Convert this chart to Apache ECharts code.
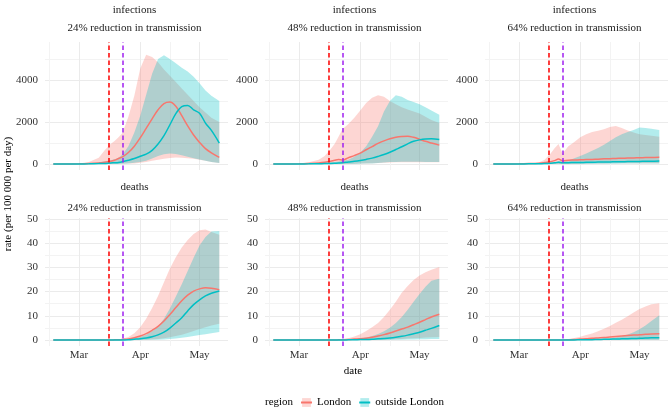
<!DOCTYPE html>
<html><head><meta charset="utf-8">
<script src="https://cdn.jsdelivr.net/npm/echarts@6/dist/echarts.min.js"></script>
<style>html,body{margin:0;padding:0;background:#fff}#c{width:668px;height:408px}</style>
</head><body><div id="c"></div>
<script>
// ---------- data ----------
const dates = ['2020-02-17','2020-02-24','2020-03-01','2020-03-06','2020-03-11','2020-03-14','2020-03-17','2020-03-19','2020-03-21','2020-03-23','2020-03-26','2020-03-29','2020-04-01','2020-04-04','2020-04-07','2020-04-10','2020-04-13','2020-04-16','2020-04-19','2020-04-22','2020-04-25','2020-04-28','2020-05-01','2020-05-04','2020-05-07','2020-05-11'];
const monthTickDates = ['2020-03-01','2020-04-01','2020-05-01'];
const monthTickLabels = ['Mar','Apr','May'];
const monthMinorDates = ['2020-02-15','2020-03-16','2020-04-16','2020-05-16'];
const interventionDates = ['2020-03-16','2020-03-23'];
const interventionColors = ['#FF0000','#A020F0'];
const infTicks = [0,2000,4000];
const infMinorTicks = [1000,3000,5000];
const deathTicks = [0,10,20,30,40,50];
const deathMinorTicks = [5,15,25,35,45];
const measures = ['infections','infections','infections','deaths','deaths','deaths'];
const scenarios = ['24% reduction in transmission','48% reduction in transmission','64% reduction in transmission','24% reduction in transmission','48% reduction in transmission','64% reduction in transmission'];
const regions = ['London','outside London'];

// infections, 24%
const inf24_london_med = [0,2,8,20,45,80,130,180,260,340,550,850,1250,1700,2150,2580,2880,2950,2750,2300,1820,1380,1030,730,530,320];
const inf24_london_lo  = [0,0,0,0,0,2,5,8,10,15,20,30,60,100,150,200,250,290,310,300,280,250,200,150,100,50];
const inf24_london_hi  = [0,10,30,90,300,650,950,1100,1280,1480,2250,3250,4550,5200,5100,4850,4500,4200,3900,3600,3300,3000,2700,2450,2200,2000];
const inf24_out_med    = [0,1,4,10,20,30,50,60,75,110,180,260,370,470,650,950,1350,1870,2400,2730,2790,2580,2420,1950,1600,1000];
const inf24_out_lo     = [0,0,0,0,0,0,0,0,5,10,30,60,100,150,260,380,460,500,480,420,350,280,220,160,100,50];
const inf24_out_hi     = [0,5,15,40,80,120,180,230,300,450,850,1500,2300,3300,4300,5000,5180,5000,4800,4580,4400,4150,3850,3500,3250,3000];
// infections, 48%
const inf48_london_med = [0,3,10,25,50,80,130,180,220,190,300,400,520,680,830,980,1100,1200,1270,1310,1320,1270,1180,1080,1000,900];
const inf48_london_lo  = [0,0,0,0,0,0,0,0,0,0,5,10,20,30,40,50,60,70,80,80,80,80,80,80,80,80];
const inf48_london_hi  = [0,10,30,80,200,380,700,950,1300,1650,1900,2200,2550,2900,3150,3280,3200,3000,2850,2700,2600,2500,2400,2250,2100,1950];
const inf48_out_med    = [0,1,3,8,15,22,30,38,50,65,100,130,170,220,280,360,450,560,690,820,960,1080,1150,1190,1200,1170];
const inf48_out_lo     = [0,0,0,0,0,0,0,0,0,0,0,5,10,20,30,50,70,90,100,110,110,110,105,100,100,100];
const inf48_out_hi     = [0,3,8,20,40,60,80,95,120,150,200,350,550,850,1300,1800,2500,3000,3280,3200,3050,2950,2850,2700,2550,2350];
// infections, 64%
const inf64_london_med = [0,3,8,20,40,70,110,160,240,150,180,190,200,210,220,230,245,255,265,275,285,290,300,305,310,320];
const inf64_london_lo  = [0,0,0,0,0,0,0,0,0,0,0,5,10,15,20,25,30,35,40,40,40,40,40,40,40,40];
const inf64_london_hi  = [0,5,15,30,70,200,500,750,950,500,850,1050,1280,1420,1520,1580,1650,1760,1810,1720,1600,1500,1420,1380,1340,1300];
const inf64_out_med    = [0,1,3,8,15,25,40,55,80,60,65,70,75,80,85,90,95,100,105,110,115,120,125,130,135,140];
const inf64_out_lo     = [0,0,0,0,0,0,0,0,0,0,0,0,0,0,5,10,10,15,15,20,20,20,20,20,20,20];
const inf64_out_hi     = [0,2,5,12,25,40,60,90,130,110,170,280,380,500,630,760,920,1100,1280,1420,1530,1620,1740,1720,1680,1620];
// deaths, 24%
const dth24_london_med = [0,0,0,0,0,0,0,0.05,0.1,0.2,0.4,0.9,1.6,2.6,4.0,5.6,7.8,10.5,13.4,16.2,18.5,20.2,21.1,21.6,21.4,20.8];
const dth24_london_lo  = [0,0,0,0,0,0,0,0,0,0,0,0,0.05,0.1,0.2,0.4,0.7,1.1,1.6,2.2,2.9,3.7,4.5,5.3,6.0,6.7];
const dth24_london_hi  = [0,0,0,0,0,0,0,0.1,0.2,0.5,1.2,2.8,5.2,8.8,13.2,18.2,23.8,29.5,34.2,38.2,41.3,43.8,45.3,45.6,44.6,43.5];
const dth24_out_med    = [0,0,0,0,0,0,0,0,0,0,0.1,0.3,0.5,0.8,1.3,2.1,3.2,4.9,7.0,9.2,12.0,14.6,16.6,18.2,19.3,20.2];
const dth24_out_lo     = [0,0,0,0,0,0,0,0,0,0,0,0,0,0,0.05,0.1,0.2,0.4,0.6,0.9,1.2,1.6,2.0,2.4,2.8,3.3];
const dth24_out_hi     = [0,0,0,0,0,0,0,0,0,0.1,0.3,0.7,1.3,2.2,3.6,5.6,8.8,13.0,18.0,23.0,28.5,34.0,39.0,42.5,44.8,45.0];
// deaths, 48%
const dth48_london_med = [0,0,0,0,0,0,0,0,0.05,0.1,0.2,0.35,0.5,0.75,1.1,1.6,2.2,2.9,3.7,4.5,5.3,6.3,7.3,8.4,9.5,10.6];
const dth48_london_lo  = [0,0,0,0,0,0,0,0,0,0,0,0,0,0,0,0,0.1,0.2,0.3,0.4,0.55,0.7,0.85,1.0,1.1,1.2];
const dth48_london_hi  = [0,0,0,0,0,0,0,0.05,0.1,0.3,0.7,1.4,2.4,3.7,5.2,7.0,9.5,12.5,15.8,19.5,22.3,24.8,26.6,28.0,29.0,30.2];
const dth48_out_med    = [0,0,0,0,0,0,0,0,0,0,0.05,0.1,0.15,0.2,0.3,0.45,0.6,0.8,1.1,1.5,2.0,2.6,3.2,4.0,4.8,6.0];
const dth48_out_lo     = [0,0,0,0,0,0,0,0,0,0,0,0,0,0,0,0,0,0,0.05,0.1,0.15,0.2,0.25,0.3,0.35,0.4];
const dth48_out_hi     = [0,0,0,0,0,0,0,0,0,0,0.1,0.3,0.6,1.0,1.6,2.5,3.6,5.0,7.0,9.5,12.5,15.8,19.0,22.0,24.5,25.3];
// deaths, 64%
const dth64_london_med = [0,0,0,0,0,0,0,0,0,0,0.1,0.2,0.35,0.5,0.7,0.85,1.0,1.2,1.4,1.6,1.8,2.0,2.2,2.35,2.5,2.6];
const dth64_london_lo  = [0,0,0,0,0,0,0,0,0,0,0,0,0,0,0,0,0,0.05,0.05,0.05,0.05,0.1,0.1,0.1,0.1,0.1];
const dth64_london_hi  = [0,0,0,0,0,0,0,0,0,0.1,0.4,0.8,1.3,2.0,2.7,3.6,4.6,5.8,7.1,8.4,9.8,11.3,12.8,13.8,14.8,15.2];
const dth64_out_med    = [0,0,0,0,0,0,0,0,0,0,0,0.02,0.05,0.08,0.12,0.2,0.25,0.3,0.4,0.45,0.5,0.6,0.7,0.8,0.9,0.95];
const dth64_out_lo     = [0,0,0,0,0,0,0,0,0,0,0,0,0,0,0,0,0,0,0,0,0,0,0,0,0,0];
const dth64_out_hi     = [0,0,0,0,0,0,0,0,0,0,0,0.05,0.1,0.15,0.2,0.3,0.5,0.7,1.0,1.5,2.3,3.2,4.4,6.0,7.8,10.2];

// ---------- build ----------
const panels = [
  {L:[inf24_london_lo,inf24_london_med,inf24_london_hi], O:[inf24_out_lo,inf24_out_med,inf24_out_hi]},
  {L:[inf48_london_lo,inf48_london_med,inf48_london_hi], O:[inf48_out_lo,inf48_out_med,inf48_out_hi]},
  {L:[inf64_london_lo,inf64_london_med,inf64_london_hi], O:[inf64_out_lo,inf64_out_med,inf64_out_hi]},
  {L:[dth24_london_lo,dth24_london_med,dth24_london_hi], O:[dth24_out_lo,dth24_out_med,dth24_out_hi]},
  {L:[dth48_london_lo,dth48_london_med,dth48_london_hi], O:[dth48_out_lo,dth48_out_med,dth48_out_hi]},
  {L:[dth64_london_lo,dth64_london_med,dth64_london_hi], O:[dth64_out_lo,dth64_out_med,dth64_out_hi]}
];
const dayOf = s => { const p = s.split('-').map(Number); return (Date.UTC(p[0],p[1]-1,p[2]) - Date.UTC(2020,2,1)) / 864e5; };
const xDays = dates.map(dayOf);
const monthTicks = monthTickDates.map(dayOf);
const monthMinor = monthMinorDates.map(dayOf);
const interventions = interventionDates.map(dayOf);

const FONT = 'Liberation Serif';
const colL = '#F8766D', colO = '#00BFC4';
const fillL = 'rgba(248,118,109,0.3)', fillO = 'rgba(0,191,196,0.3)';
const gridLeft = [45, 265, 485], gridTop = [42, 218], GW = 183, GH = 128;

const grids = [], xAxes = [], yAxes = [], series = [], graphics = [];
panels.forEach((p, i) => {
  const row = i < 3 ? 0 : 1, col = i % 3;
  grids.push({left: gridLeft[col], top: gridTop[row], width: GW, height: GH});
  const isInf = row === 0;
  const xmin = -17.2, xmax = 75.4;
  const ymin = isInf ? -285 : -2.5, ymax = isInf ? 5810 : 50.4;
  xAxes.push({gridIndex: i, type: 'value', min: xmin, max: xmax,
    axisLine: {show: false}, axisTick: {show: false, customValues: monthTicks},
    axisLabel: {show: row === 1, customValues: monthTicks, margin: 4,
      formatter: v => monthTickLabels[monthTicks.indexOf(v)] || '',
      fontFamily: FONT, fontSize: 11, color: '#333333'},
    splitLine: {show: true, lineStyle: {color: '#EBEBEB', width: 1}}});
  xAxes.push({gridIndex: i, type: 'value', min: xmin, max: xmax,
    axisLine: {show: false}, axisTick: {show: false, customValues: monthMinor},
    axisLabel: {show: false},
    splitLine: {show: true, lineStyle: {color: '#F3F3F3', width: 1}}});
  const ticks = isInf ? infTicks : deathTicks;
  const minor = isInf ? infMinorTicks : deathMinorTicks;
  yAxes.push({gridIndex: i, type: 'value', min: ymin, max: ymax,
    axisLine: {show: false}, axisTick: {show: false, customValues: ticks},
    axisLabel: {show: true, customValues: ticks, margin: 7, formatter: v => String(v),
      fontFamily: FONT, fontSize: 11, color: '#333333'},
    splitLine: {show: true, lineStyle: {color: '#EBEBEB', width: 1}}});
  yAxes.push({gridIndex: i, type: 'value', min: ymin, max: ymax,
    axisLine: {show: false}, axisTick: {show: false, customValues: minor},
    axisLabel: {show: false},
    splitLine: {show: true, lineStyle: {color: '#F3F3F3', width: 1}}});
  const xi = 2 * i, yi = 2 * i;

  [[p.L, fillL, 'London band'], [p.O, fillO, 'outside London band']].forEach(([arr, fill, nm]) => {
    const lo = arr[0], hi = arr[2];
    series.push({type: 'custom', name: nm, xAxisIndex: xi, yAxisIndex: yi, silent: true,
      data: xDays.map((d, k) => [d, lo[k], hi[k]]),
      encode: {x: 0, y: [1, 2]}, clip: true, z: 1,
      renderItem: (params, api) => {
        if (params.dataIndex !== 0) return null;
        const pts = [];
        for (let k = 0; k < xDays.length; k++) pts.push(api.coord([xDays[k], hi[k]]));
        for (let k = xDays.length - 1; k >= 0; k--) pts.push(api.coord([xDays[k], lo[k]]));
        return {type: 'polygon', shape: {points: pts}, style: {fill: fill, stroke: null}};
      }});
  });
  [[p.L, colL, 'London'], [p.O, colO, 'outside London']].forEach(([arr, c, nm], j) => {
    const s = {type: 'line', name: nm, xAxisIndex: xi, yAxisIndex: yi,
      data: xDays.map((d, k) => [d, arr[1][k]]),
      smooth: 0.35, symbol: 'rect', showSymbol: false, silent: true, z: 3,
      lineStyle: {color: c, width: 1.5}, itemStyle: {color: c}};
    if (j === 1) {
      s.markLine = {symbol: 'none', silent: true, label: {show: false}, animation: false,
        lineStyle: {type: [4.5, 3], width: 1.5},
        data: interventions.map((d, k) => ({xAxis: d, lineStyle: {color: interventionColors[k], type: [4.5, 3], width: 1.5}}))};
    }
    series.push(s);
  });

  const cx = gridLeft[col] + GW / 2 - 2;
  graphics.push({type: 'text', x: cx, y: row ? 187 : 10,
    style: {text: measures[i], font: '11px "' + FONT + '"', fill: '#1A1A1A', align: 'center', verticalAlign: 'middle', textAlign: 'center', textVerticalAlign: 'middle'}});
  graphics.push({type: 'text', x: cx, y: row ? 208 : 28,
    style: {text: scenarios[i], font: '11px "' + FONT + '"', fill: '#1A1A1A', align: 'center', verticalAlign: 'middle', textAlign: 'center', textVerticalAlign: 'middle'}});
});

graphics.push({type: 'text', x: 8, y: 194, rotation: Math.PI / 2,
  style: {text: 'rate (per 100 000 per day)', font: '11px "' + FONT + '"', fill: '#000', align: 'center', verticalAlign: 'middle', textAlign: 'center', textVerticalAlign: 'middle'}});
graphics.push({type: 'text', x: 353, y: 371,
  style: {text: 'date', font: '11px "' + FONT + '"', fill: '#000', align: 'center', verticalAlign: 'middle', textAlign: 'center', textVerticalAlign: 'middle'}});
graphics.push({type: 'text', x: 265, y: 402,
  style: {text: 'region', font: '11px "' + FONT + '"', fill: '#000', align: 'left', verticalAlign: 'middle', textAlign: 'left', textVerticalAlign: 'middle'}});

const chart = echarts.init(document.getElementById('c'), null, {renderer: 'canvas'});
chart.setOption({
  animation: false,
  backgroundColor: '#fff',
  grid: grids, xAxis: xAxes, yAxis: yAxes, series: series,
  legend: {left: 300, top: 397, padding: 0, orient: 'horizontal', itemWidth: 11, itemHeight: 11, itemGap: 7,
    selectedMode: false,
    textStyle: {fontFamily: FONT, fontSize: 11, color: '#000'},
    data: [
      {name: regions[0], itemStyle: {color: fillL, borderWidth: 0}},
      {name: regions[1], itemStyle: {color: fillO, borderWidth: 0}}
    ]},
  graphic: graphics
});
</script></body></html>
